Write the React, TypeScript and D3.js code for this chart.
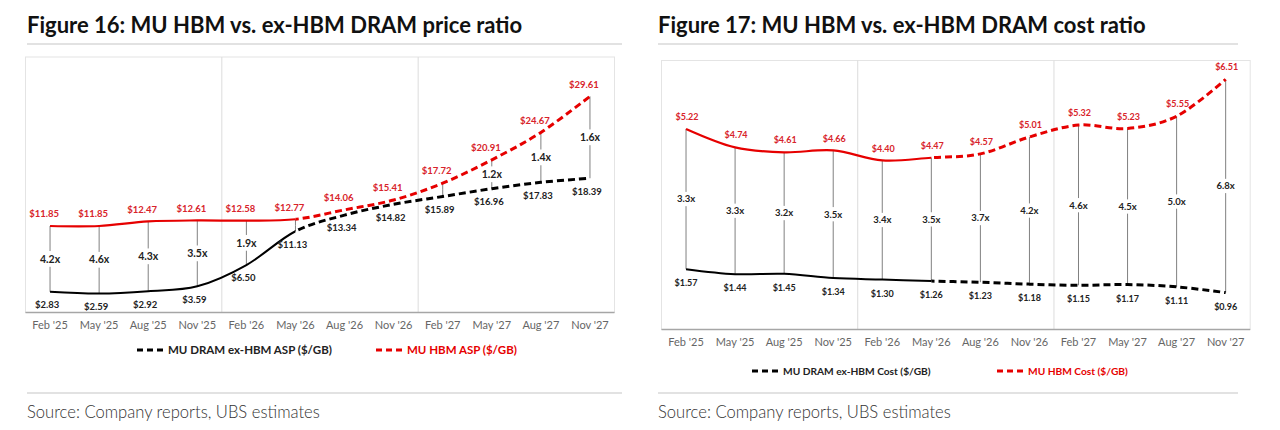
import * as d3 from "d3";
import React from "react";

// quarters shared by both figures
const months = [
  "Feb '25", "May '25", "Aug '25", "Nov '25",
  "Feb '26", "May '26", "Aug '26", "Nov '26",
  "Feb '27", "May '27", "Aug '27", "Nov '27",
];
const lastActualIndex = 5; // May '26: solid up to here, dashed after

// Figure 16
const hbmAsp = [11.85, 11.85, 12.47, 12.61, 12.58, 12.77, 14.06, 15.41, 17.72, 20.91, 24.67, 29.61];
const dramAsp = [2.83, 2.59, 2.92, 3.59, 6.5, 11.13, 13.34, 14.82, 15.89, 16.96, 17.83, 18.39];
// null = no connector, "" = connector without label
const priceRatio = ["4.2x", "4.6x", "4.3x", "3.5x", "1.9x", "", null, null, "", "1.2x", "1.4x", "1.6x"];

// Figure 17
const hbmCost = [5.22, 4.74, 4.61, 4.66, 4.4, 4.47, 4.57, 5.01, 5.32, 5.23, 5.55, 6.51];
const dramCost = [1.57, 1.44, 1.45, 1.34, 1.3, 1.26, 1.23, 1.18, 1.15, 1.17, 1.11, 0.96];
const costRatio = ["3.3x", "3.3x", "3.2x", "3.5x", "3.4x", "3.5x", "3.7x", "4.2x", "4.6x", "4.5x", "5.0x", "6.8x"];

const RED = "#e60000";
const RED_TEXT = "#d8232a";
const FONT = "Lato, 'Liberation Sans', sans-serif";

interface ChartProps {
  id: string;
  title: string;
  titleLeft: number;
  left: number;
  right: number;
  ruleRight: number;
  plotTop: number;
  axisY: number;
  yMax: number;
  hbm: number[];
  dram: number[];
  ratio: (string | null)[];
  hbmLegend: string;
  dramLegend: string;
  legendY: number;
  legendX: [number, number];
  valueSize: number;
  ratioSize: number;
  legendSize: number;
  redOffset: [number, number];
  blackOffset: [number, number];
}

const Chart = (p: ChartProps) => {
  const x = d3.scaleBand<string>().domain(months).range([p.left, p.right]);
  const cx = (i: number) => (x(months[i]) ?? 0) + x.bandwidth() / 2;
  const y = d3.scaleLinear().domain([0, p.yMax]).range([p.axisY, p.plotTop]);

  const line = d3
    .line<number>()
    .x((_, i) => cx(i))
    .y((d) => y(d))
    .curve(d3.curveCardinal.tension(0));

  const splitX = cx(lastActualIndex);
  const dividers = [4, 8].map((i) => x(months[i]) ?? 0);
  const titleLeft = p.titleLeft;

  const series = (vals: number[], color: string, solidW: number, dashW: number) => (
    <g>
      <path d={line(vals) ?? ""} fill="none" stroke={color} strokeWidth={solidW}
        clipPath={`url(#${p.id}-solid)`} />
      <path d={line(vals) ?? ""} fill="none" stroke={color} strokeWidth={dashW}
        strokeDasharray="7 4" clipPath={`url(#${p.id}-dash)`} />
    </g>
  );

  return (
    <g>
      <defs>
        <clipPath id={`${p.id}-solid`}>
          <rect x={p.left - 5} y={0} width={splitX - p.left + 5} height={430} />
        </clipPath>
        <clipPath id={`${p.id}-dash`}>
          <rect x={splitX} y={0} width={p.right - splitX + 5} height={430} />
        </clipPath>
      </defs>

      <text x={titleLeft} y={33} fontFamily={FONT} fontWeight={700} fontSize={22} fill="#111">
        {p.title}
      </text>
      <line x1={titleLeft} x2={p.ruleRight} y1={44} y2={44} stroke="#e2e2e2" strokeWidth={2} />

      {/* plot frame */}
      <rect x={p.left} y={p.plotTop} width={p.right - p.left} height={p.axisY - p.plotTop}
        fill="#fff" stroke="#e4e4e4" strokeWidth={1} />
      {dividers.map((dx, i) => (
        <line key={i} x1={dx} x2={dx} y1={p.plotTop} y2={p.axisY} stroke="#dcdcdc" strokeWidth={1} />
      ))}
      <line x1={p.left} x2={p.right} y1={p.axisY} y2={p.axisY} stroke="#a6a6a6" strokeWidth={1.5} />
      {months.map((m, i) => (
        <text key={m} x={cx(i)} y={p.axisY + 16} textAnchor="middle" fontFamily={FONT}
          fontSize={11} fill="#666">
          {m}
        </text>
      ))}

      {/* ratio connectors */}
      {p.ratio.map((r, i) => {
        if (r === null) return null;
        const y1 = y(p.hbm[i]);
        const y2 = y(p.dram[i]);
        const mid = (y1 + y2) / 2;
        const gap = r === "" ? 0 : p.ratioSize * 0.75;
        return (
          <g key={i}>
            <line x1={cx(i)} x2={cx(i)} y1={y1} y2={mid - gap} stroke="#808080" strokeWidth={1} />
            <line x1={cx(i)} x2={cx(i)} y1={mid + gap} y2={y2} stroke="#808080" strokeWidth={1} />
            {r !== "" && (
              <text x={cx(i)} y={mid} dy="0.35em" textAnchor="middle" fontFamily={FONT}
                fontWeight={700} fontSize={p.ratioSize} fill="#222">
                {r}
              </text>
            )}
          </g>
        );
      })}

      {series(p.dram, "#000", 2, 3)}
      {series(p.hbm, RED, 2.2, 3)}

      {p.hbm.map((v, i) => (
        <text key={`h${i}`} x={cx(i) + p.redOffset[0]} y={y(v) + p.redOffset[1]} dy="0.35em"
          textAnchor="middle" fontFamily={FONT} fontWeight={700} fontSize={p.valueSize} fill={RED_TEXT}>
          {`$${v.toFixed(2)}`}
        </text>
      ))}
      {p.dram.map((v, i) => (
        <text key={`d${i}`} x={cx(i) + p.blackOffset[0]} y={y(v) + p.blackOffset[1]} dy="0.35em"
          textAnchor="middle" fontFamily={FONT} fontWeight={700} fontSize={p.valueSize} fill="#222">
          {`$${v.toFixed(2)}`}
        </text>
      ))}

      {/* legend */}
      {[
        { label: p.dramLegend, color: "#000", text: "#222", x0: p.legendX[0] },
        { label: p.hbmLegend, color: RED, text: RED, x0: p.legendX[1] },
      ].map((l) => (
        <g key={l.label}>
          <line x1={l.x0} x2={l.x0 + 26} y1={p.legendY} y2={p.legendY} stroke={l.color}
            strokeWidth={3} strokeDasharray="6 4" />
          <text x={l.x0 + 31} y={p.legendY} dy="0.35em" fontFamily={FONT} fontWeight={700}
            fontSize={p.legendSize} fill={l.text}>
            {l.label}
          </text>
        </g>
      ))}

      <line x1={titleLeft} x2={p.ruleRight} y1={393} y2={393} stroke="#e2e2e2" strokeWidth={2} />
      <text x={titleLeft} y={418} fontFamily={FONT} fontWeight={300} fontSize={16.6} fill="#333">
        Source: Company reports, UBS estimates
      </text>
    </g>
  );
};

const App = () => (
  <svg width={1280} height={430} style={{ position: "absolute", left: 0, top: 0, background: "#fff" }}>
    <Chart
      id="f16"
      title="Figure 16: MU HBM vs. ex-HBM DRAM price ratio"
      titleLeft={27}
      left={25.5}
      right={614.5}
      ruleRight={622}
      plotTop={57}
      axisY={312.5}
      yMax={35}
      hbm={hbmAsp}
      dram={dramAsp}
      ratio={priceRatio}
      hbmLegend="MU HBM ASP ($/GB)"
      dramLegend="MU DRAM ex-HBM ASP ($/GB)"
      legendY={350}
      legendX={[137, 376]}
      valueSize={9.5}
      ratioSize={10.5}
      legendSize={11.5}
      redOffset={[-6, -12]}
      blackOffset={[-3, 13]}
    />
    <Chart
      id="f17"
      title="Figure 17: MU HBM vs. ex-HBM DRAM cost ratio"
      titleLeft={658}
      left={661.5}
      right={1250.2}
      ruleRight={1238}
      plotTop={60.5}
      axisY={329.5}
      yMax={7}
      hbm={hbmCost}
      dram={dramCost}
      ratio={costRatio}
      hbmLegend="MU HBM Cost ($/GB)"
      dramLegend="MU DRAM ex-HBM Cost ($/GB)"
      legendY={371}
      legendX={[752, 997]}
      valueSize={9}
      ratioSize={9.5}
      legendSize={10.2}
      redOffset={[1, -12]}
      blackOffset={[0, 14]}
    />
  </svg>
);

export default App;
